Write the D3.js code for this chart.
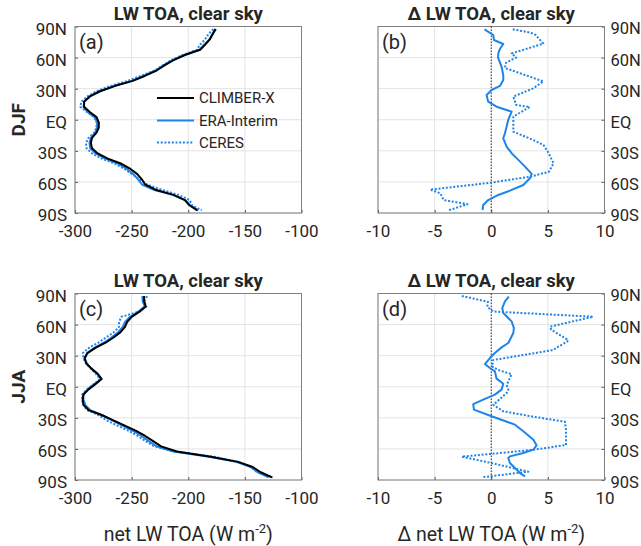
<!DOCTYPE html>
<html><head><meta charset="utf-8">
<script src="https://cdn.jsdelivr.net/npm/d3@7/dist/d3.min.js"></script>
<style>body{margin:0;background:#fff} svg text{font-family:Roboto,"Noto Sans",sans-serif;fill:#262626}</style>
</head><body><svg id="chart" width="641" height="546"></svg>
<script>
// ---------- data ----------
const lats = [87.5,82.5,77.5,72.5,67.5,62.5,57.5,52.5,47.5,42.5,37.5,32.5,27.5,22.5,17.5,12.5,7.5,2.5,
  -2.5,-7.5,-12.5,-17.5,-22.5,-27.5,-32.5,-37.5,-42.5,-47.5,-52.5,-57.5,-62.5,-67.5,-72.5,-77.5,-82.5,-87.5];

const climberDJF = [-176,-178.5,-181,-185,-189.5,-203,-213,-221,-228,-238,-249,-265,-278,-287,-292,-292,-287,-281,
  -279,-279,-281,-285,-286,-285,-280,-271,-259,-251,-245,-241,-238,-229,-213,-203,-199,-192];
const eraDJF = [-175.4,-178.7,-181.3,-186,-190.2,-203.6,-213.7,-221.9,-229,-239.1,-250,-265.8,-278,-286.6,-291.7,-292.5,-288.8,-282.6,
  -280.5,-280.4,-282.2,-286.1,-287.2,-286.5,-281.8,-273.3,-261.7,-254.2,-248.6,-244.3,-240.9,-230.8,-213.6,-202.7,-198.3,-191.2];
const ceresDJF = [-177.9,-182.3,-185.2,-189.5,-192.5,-204.8,-215.1,-222.5,-229.6,-241.6,-253.5,-269,-281.1,-289,-294.3,-295.4,-289.5,-283,
  -281,-281,-283,-288.1,-290.3,-289.8,-285,-276.3,-264.5,-256.3,-249.5,-243,-236.5,-223.6,-208.6,-198.7,-196.8,-188.2];

const climberJJA = [-239,-239,-237.5,-243,-250,-254,-256,-260,-266,-273,-282,-289,-291.5,-290,-285.5,-280,-276.5,-282,
  -288,-292.5,-293.2,-292.5,-288,-276,-266,-256,-246,-238,-231,-224,-210,-180,-156,-143,-136,-126];
const eraJJA = [-240.6,-240.2,-238.5,-244,-251.4,-255.8,-258,-262,-267.8,-274.5,-282.9,-289.3,-291.4,-289.5,-285.5,-280.4,-277,-283,
  -288.9,-292.8,-292.5,-290.9,-286.6,-275.8,-267.1,-258.2,-248.8,-241.3,-234.8,-228,-213.2,-181.6,-157.6,-145,-138.5,-129];
const ceresJJA = [-236.4,-238.7,-237.1,-243.3,-259,-261.1,-261.3,-265.9,-272.7,-279.5,-287.7,-293,-292.6,-290.3,-286,-281.6,-278,-283.4,
  -289.5,-293.6,-293.8,-292.7,-289.5,-279,-272,-262.6,-252.6,-244.6,-237.6,-230,-211.5,-177.4,-155.6,-144.5,-139.2,-125.1];

// differences (CLIMBER-X minus observations)
const dEraDJFLat = [87.3,81.8,77,73.1,68,64.1,60,51.2,43.2,38.4,32.6,28.7,23.9,17.4,12.6,7.8,-0.2,-6.5,-13.1,-17.9,
  -25.9,-32.3,-38.7,-45.2,-52.2,-56.5,-63,-68.4,-72.6,-77.5,-82.3,-87.1];
const dEraDJF = [-0.6,0.18,0.24,1.06,0.75,0.62,0.6,0.91,1.06,1.06,0.77,0.03,-0.41,-0.27,0.47,1.8,1.5,1.36,1.21,1.06,
  1.36,1.8,2.39,2.98,3.57,3.42,2.83,1.65,0.62,-0.27,-0.71,-0.77];
const dCeresDJFLat = [87.3,84,82,73.5,64,60,55,50,37,30.3,22.3,14.3,12.3,3,-11.5,-19.5,-24.3,-30.8,-42,-50.2,
  -55,-60.8,-67.5,-71,-77.5,-81.5,-87.5];
const dCeresDJF = [1.9,3.5,3.9,4.6,1.8,2.2,1.3,1.2,4.6,3.7,1.95,2.2,3.4,1.95,1.95,3.7,4.6,5.0,5.5,5.1,
  3.4,-0.1,-5.4,-4.5,-4.2,-2.1,-3.8];

const dEraJJALat = [86.9,82.4,76,71.2,63.1,56.7,51.9,45.4,42.2,38,32.6,27.7,21.9,18.1,14.9,7.8,2.9,-2.8,-7.6,-12.5,
  -16.7,-22.1,-28.5,-36.6,-43,-51.1,-56.5,-60.7,-64,-67.2,-68.8,-73.6,-78.4,-80,-83.3,-86.5];
const dEraJJA = [1.55,1.21,0.97,1.06,1.8,2.0,1.95,1.65,1.5,0.91,0.32,-0.12,-0.56,-0.12,0.32,0.47,1.06,0.91,0.32,-0.71,
  -1.59,-1.53,0.03,2.09,2.83,3.72,4.0,3.72,2.83,1.65,1.5,1.65,2.09,2.24,2.54,2.98];
const dCeresJJALat = [87.6,82,77,72.6,67.6,58,55,45,43.5,38,35.5,25.8,19.7,16.2,12,1.7,-3,-6,-17.5,-23.7,
  -28.9,-33.7,-41.4,-56.2,-60.9,-67.5,-74,-82,-87.4];
const dCeresJJA = [-2.6,-0.3,-0.35,0.18,9.0,5.2,5.3,6.8,6.7,5.8,5.5,0.18,0.05,0.6,1.8,1.36,1.5,1.36,0.18,1.06,
  3.7,6.5,6.6,6.6,3.7,-2.6,0.18,3.27,-0.85];

const latTicks = [90,60,30,0,-30,-60,-90];
const latTickLabels = ["90N","60N","30N","EQ","30S","60S","90S"];
const absTicks = [-300,-250,-200,-150,-100];
const deltaTicks = [-10,-5,0,5,10];
const seriesNames = ["CLIMBER-X","ERA-Interim","CERES"];

// ---------- drawing ----------
const BLUE = "#1f84ea";
const svg = d3.select("#chart");
const W = 226.5, H = 186.5;

const panels = [
  {lab:"(a)", title:"LW TOA, clear sky", x0:75, y0:26.5, dom:[-300,-100], ticks:absTicks, right:false,
   lines:[{lat:lats,v:ceresDJF,c:BLUE,d:true},{lat:lats,v:eraDJF,c:BLUE},{lat:lats,v:climberDJF,c:"#000"}]},
  {lab:"(b)", title:"\u0394 LW TOA, clear sky", x0:378, y0:26.5, dom:[-10,10], ticks:deltaTicks, right:true, zero:true,
   lines:[{lat:dCeresDJFLat,v:dCeresDJF,c:BLUE,d:true},{lat:dEraDJFLat,v:dEraDJF,c:BLUE}]},
  {lab:"(c)", title:"LW TOA, clear sky", x0:75, y0:293.5, dom:[-300,-100], ticks:absTicks, right:false,
   lines:[{lat:lats,v:ceresJJA,c:BLUE,d:true},{lat:lats,v:eraJJA,c:BLUE},{lat:lats,v:climberJJA,c:"#000"}]},
  {lab:"(d)", title:"\u0394 LW TOA, clear sky", x0:378, y0:293.5, dom:[-10,10], ticks:deltaTicks, right:true, zero:true,
   lines:[{lat:dCeresJJALat,v:dCeresJJA,c:BLUE,d:true},{lat:dEraJJALat,v:dEraJJA,c:BLUE}]}
];

panels.forEach((p, pi) => {
  const x = d3.scaleLinear().domain(p.dom).range([p.x0, p.x0 + W]);
  const y = d3.scaleLinear().domain([90, -90]).range([p.y0, p.y0 + H]);
  const g = svg.append("g");

  // grid
  g.append("g").selectAll("line.v").data(p.ticks).join("line")
    .attr("x1", d => x(d)).attr("x2", d => x(d)).attr("y1", p.y0).attr("y2", p.y0 + H)
    .attr("stroke", "#e3e3e3").attr("stroke-width", 1);
  g.append("g").selectAll("line.h").data(latTicks).join("line")
    .attr("x1", p.x0).attr("x2", p.x0 + W).attr("y1", d => y(d)).attr("y2", d => y(d))
    .attr("stroke", "#e3e3e3").attr("stroke-width", 1);

  // x axis
  const xa = g.append("g").attr("transform", `translate(0,${p.y0 + H})`)
    .call(d3.axisBottom(x).tickValues(p.ticks).tickFormat(d => String(d)).tickSizeInner(-3).tickSizeOuter(0).tickPadding(10));
  xa.select(".domain").remove();
  xa.selectAll("line").attr("stroke", "#555");
  xa.selectAll("text").attr("font-size", 17).attr("fill", "#262626").attr("dy", "0.85em");

  // y axis
  const ax = p.right ? d3.axisRight(y) : d3.axisLeft(y);
  const ya = g.append("g").attr("transform", `translate(${p.right ? p.x0 + W : p.x0},0)`)
    .call(ax.tickValues(latTicks).tickFormat((d, i) => latTickLabels[i]).tickSizeInner(-3).tickSizeOuter(0).tickPadding(p.right ? 6 : 8));
  ya.select(".domain").remove();
  ya.selectAll("line").attr("stroke", "#555");
  ya.selectAll("text").attr("font-size", p.right ? 16.5 : 17).attr("fill", "#262626").attr("dy", "0.45em");

  // box
  g.append("rect").attr("x", p.x0).attr("y", p.y0).attr("width", W).attr("height", H)
    .attr("fill", "none").attr("stroke", "#7f7f7f").attr("stroke-width", 1);

  if (p.zero) {
    g.append("line").attr("x1", x(0)).attr("x2", x(0)).attr("y1", p.y0).attr("y2", p.y0 + H)
      .attr("stroke", "#000").attr("stroke-width", 0.8).attr("stroke-dasharray", "1.5,1.5");
  }

  const line = d3.line().x(d => x(d[1])).y(d => y(d[0]));
  p.lines.forEach(s => {
    const pts = s.lat.map((l, i) => [l, s.v[i]]);
    g.append("path").datum(pts).attr("d", line).attr("fill", "none")
      .attr("stroke", s.c).attr("stroke-width", 2).attr("stroke-linejoin", "round")
      .attr("stroke-dasharray", s.d ? "2,1.7" : null);
  });

  // title & panel label
  g.append("text").attr("x", p.x0 + W / 2).attr("y", p.y0 - 7).attr("text-anchor", "middle")
    .attr("font-size", 18.5).attr("font-weight", "bold").attr("fill", "#000").text(p.title);
  g.append("text").attr("x", p.x0 + 4).attr("y", p.y0 + 22).attr("font-size", 20).text(p.lab);
});

// legend in panel (a)
const legY = [98, 120.5, 142.5];
const legStyles = [{c:"#000"},{c:BLUE},{c:BLUE,d:true}];
seriesNames.forEach((n, i) => {
  svg.append("line").attr("x1", 157).attr("x2", 194).attr("y1", legY[i]).attr("y2", legY[i])
    .attr("stroke", legStyles[i].c).attr("stroke-width", 2).attr("stroke-dasharray", legStyles[i].d ? "2,1.7" : null);
  svg.append("text").attr("x", 199).attr("y", legY[i]).attr("dy", "0.36em").attr("font-size", 15).text(n);
});

// row labels
[["DJF", 26.5], ["JJA", 293.5]].forEach(([t, y0]) => {
  svg.append("text").attr("transform", `translate(24.5,${y0 + H / 2}) rotate(-90)`).attr("text-anchor", "middle")
    .attr("font-size", 19).attr("font-weight", "bold").attr("fill", "#000").text(t);
});

// x axis titles
function axisTitle(cx, prefix) {
  const t = svg.append("text").attr("x", cx).attr("y", 541).attr("text-anchor", "middle").attr("font-size", 19.5);
  t.append("tspan").text(prefix + "net LW TOA (W m");
  t.append("tspan").attr("dy", -8).attr("font-size", 13).text("-2");
  t.append("tspan").attr("dy", 8).text(")");
}
axisTitle(75 + W / 2, "");
axisTitle(378 + W / 2, "\u0394 ");
</script></body></html>
